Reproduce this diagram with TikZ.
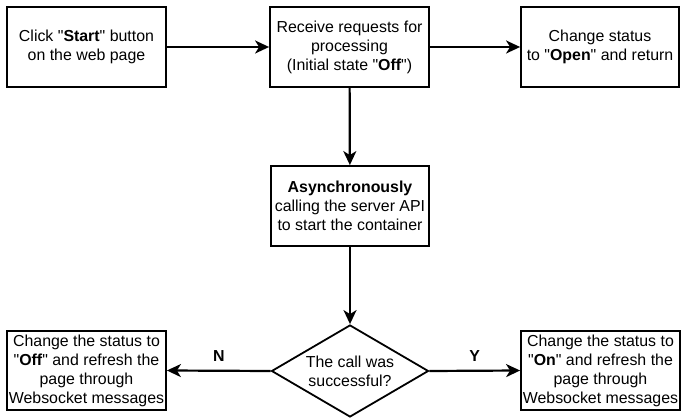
\documentclass[tikz,border=0pt]{standalone}
\usepackage{fontspec}
\setmainfont{Liberation Sans}[Ligatures=TeXOff]
\usetikzlibrary{arrows.meta, shapes.geometric}
\tikzstyle{block} = [rectangle, draw, line width=1.8pt, fill=white, align=center,
    minimum width=159pt, minimum height=80pt, inner sep=0pt]
\tikzstyle{decision} = [diamond, draw, line width=1.8pt, fill=white, align=center,
    aspect=1.7, minimum width=157pt, minimum height=92pt, inner sep=0pt]

\begin{document}
\begin{tikzpicture}[
x = 1pt, y = 1pt,
font = \fontsize{15.9}{19}\selectfont,
line/.style = {draw, line width=2.2pt, -{Stealth[length=14pt, width=13pt, inset=4pt]}},
tag/.style = {font=\fontsize{15.9}{19}\selectfont\bfseries, above=5pt}
                        ]
\useasboundingbox (0,0) rectangle (684,417);
% top row
\node [block] (start) at (86.5,370) {Click "\textbf{Start}" button\\on the web page};
\node [block] (recv) at (349.5,370) {Receive requests for\\processing\\(Initial state "\textbf{Off}")};
\node [block, minimum width=158pt] (open) at (600,370) {Change status\\to "\textbf{Open}" and return};
% middle
\node [block, minimum width=158pt] (async) at (350,211) {\textbf{Asynchronously}\\calling the server API\\to start the container};
% bottom row
\node [decision] (call) at (350,46) {The call was\\successful?};
\node [block, minimum height=79pt] (off) at (86.5,46.5) {Change the status to\\"\textbf{Off}" and refresh the\\page through\\Websocket messages};
\node [block, minimum height=79pt] (on) at (600.5,46.5) {Change the status to\\"\textbf{On}" and refresh the\\page through\\Websocket messages};
% arrows
\path [line] (start) -- (recv);
\path [line] (recv) -- (open);
\path [line] (recv) -- (async);
\path [line] (async) -- (call);
\path [line] (call.west) -- node[tag] {N} (off.east);
\path [line] (call.east) -- node[tag] {Y} (on.west);
\end{tikzpicture}
\end{document}
